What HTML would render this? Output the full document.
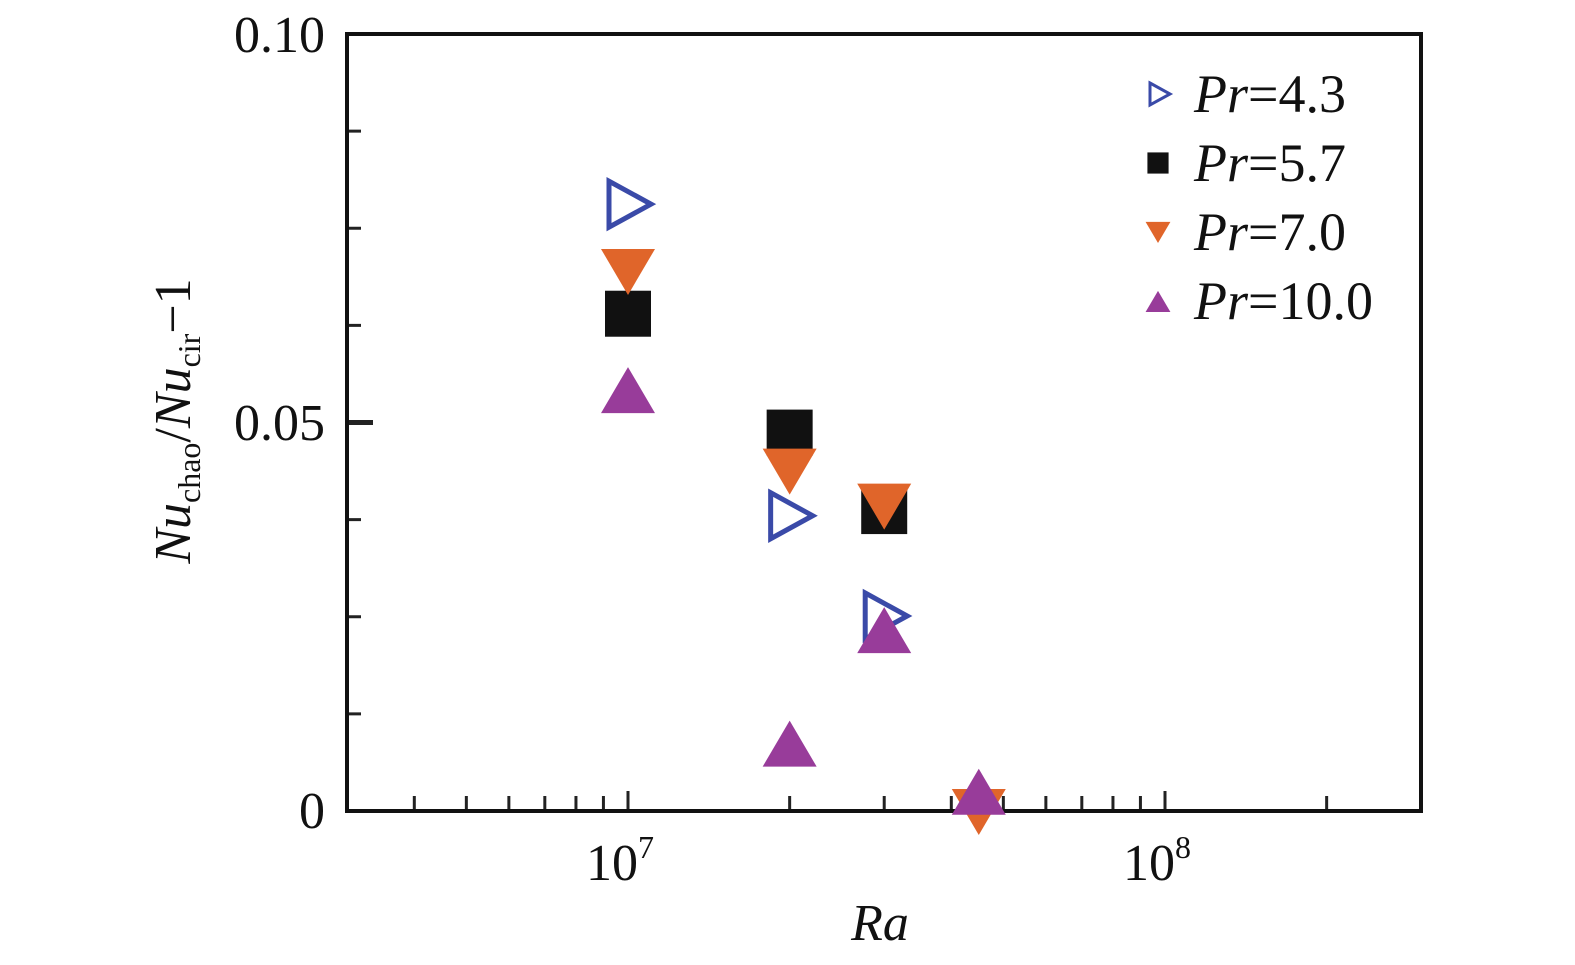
<!DOCTYPE html>
<html><head><meta charset="utf-8"><style>
html,body{margin:0;padding:0;background:#fff;}
svg{display:block;}
text{font-family:"Liberation Serif",serif;fill:#111;}
</style></head><body>
<svg id="chart" width="1575" height="965" xmlns="http://www.w3.org/2000/svg">
<g id="ticks"></g>
<rect x="347" y="34" width="1074" height="777" fill="none" stroke="#111" stroke-width="4"/>
<g id="marks"></g>
<text x="325" y="52" font-size="52" text-anchor="end">0.10</text>
<text x="325" y="440" font-size="52" text-anchor="end">0.05</text>
<text x="325" y="828" font-size="52" text-anchor="end">0</text>
<text x="620" y="880" font-size="52" text-anchor="middle">10<tspan dy="-22" font-size="32">7</tspan></text>
<text x="1157" y="880" font-size="52" text-anchor="middle">10<tspan dy="-22" font-size="32">8</tspan></text>
<text x="880" y="940" font-size="52" font-style="italic" text-anchor="middle">Ra</text>
<text transform="translate(190,421) rotate(-90)" font-size="52" text-anchor="middle"><tspan font-style="italic">Nu</tspan><tspan font-size="32" dy="10">chao</tspan><tspan dy="-10">/</tspan><tspan font-style="italic">Nu</tspan><tspan font-size="32" dy="10">cir</tspan><tspan dy="-10">−1</tspan></text>
<g id="legend"></g>
</svg>
<script>
const seriesNames=["Pr=4.3","Pr=5.7","Pr=7.0","Pr=10.0"];
const raPr43=[1e7,2e7,3e7];
const nuPr43=[0.0781,0.038,0.0251];
const raPr57=[1e7,2e7,3e7];
const nuPr57=[0.064,0.0487,0.0386];
const raPr70=[1e7,2e7,3e7,4.5e7];
const nuPr70=[0.0695,0.0438,0.0393,0.0];
const raPr100=[1e7,2e7,3e7,4.5e7];
const nuPr100=[0.0543,0.0088,0.0234,0.0026];
const yTicks=[0,0.0125,0.025,0.0375,0.05,0.0625,0.075,0.0875,0.1];

const NS="http://www.w3.org/2000/svg";
function xs(v){return 628+(Math.log10(v)-7)*537;}
function ys(v){return 811-v*7770;}
function mk(t,a,parent){const e=document.createElementNS(NS,t);for(const k in a)e.setAttribute(k,a[k]);parent.appendChild(e);return e;}
const ticks=document.getElementById('ticks');
for(let d=6;d<=8;d++){for(let m=1;m<=9;m++){const v=m*Math.pow(10,d);const x=xs(v);if(x<350||x>1416)continue;
 const t=mk('line',{x1:x,x2:x,y1:811,y2:m===1?791:796,stroke:'#222','stroke-width':3},ticks);
 
 }}
yTicks.forEach(v=>{const y=ys(v);if(v===0||v===0.1)return;
 const major=Math.abs(v-0.05)<1e-9;
 const t=mk('line',{x1:347,x2:major?373:361,y1:y,y2:y,stroke:'#222','stroke-width':major?5:3},ticks);
 
 });
const marks=document.getElementById('marks');
function marker(type,cx,cy,s,parent){
 let e;
 if(type==='right'){e=mk('polygon',{points:`${cx-19},${cy-23} ${cx+23},${cy} ${cx-19},${cy+23}`,fill:'none',stroke:'#3a4aa8','stroke-width':5*s},parent);}
 else if(type==='square'){e=mk('rect',{x:cx-23*s,y:cy-23*s,width:46*s,height:46*s,fill:'#111'},parent);}
 else if(type==='down'){e=mk('polygon',{points:`${cx-27*s},${cy-22*s} ${cx+27*s},${cy-22*s} ${cx},${cy+24*s}`,fill:'#e0652a'},parent);}
 else {e=mk('polygon',{points:`${cx-27*s},${cy+24*s} ${cx+27*s},${cy+24*s} ${cx},${cy-22*s}`,fill:'#983c9a'},parent);}
 return e;}
function draw(ra,nu,type,name){ra.forEach((r,i)=>{const e=marker(type,xs(r),ys(nu[i]),1,marks);
 
 });}
draw(raPr43,nuPr43,'right','pr-4-3');
draw(raPr57,nuPr57,'square','pr-5-7');
draw(raPr70,nuPr70,'down','pr-7-0');
draw(raPr100,nuPr100,'up','pr-10-0');
const legend=document.getElementById('legend');
const types=['right','square','down','up'];
seriesNames.forEach((n,i)=>{const y=94+i*69;
 let m;
 if(types[i]==='right'){m=mk('polygon',{points:`1150,${y-11} 1170,${y} 1150,${y+11}`,fill:'none',stroke:'#3a4aa8','stroke-width':3},legend);}
 else m=marker(types[i],1158,y,0.46,legend);
 
 
 const t=mk('text',{x:1194,y:y+18,'font-size':54},legend);
 t.innerHTML='<tspan font-style="italic">Pr</tspan>'+n.slice(2);
 
 });
</script>
</body></html>
